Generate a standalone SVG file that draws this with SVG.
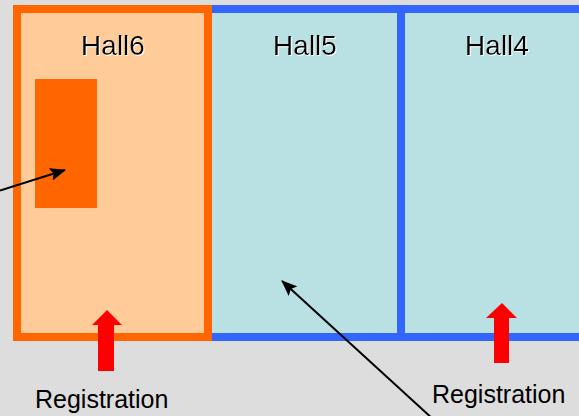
<svg xmlns="http://www.w3.org/2000/svg" width="579" height="416" viewBox="0 0 579 416">
<defs>
<style>
.t{font-family:"Liberation Sans",Arial,sans-serif;fill:#000}
.hall{font-size:28px;text-anchor:middle;filter:url(#sh)}
.reg{font-size:25px}
.conn{stroke:#000;stroke-width:2;fill:none;marker-end:url(#ah)}
.red{fill:#FF0000}
</style>
<filter id="sh" x="-10%" y="-10%" width="130%" height="130%">
<feDropShadow dx="1" dy="1" stdDeviation="0" flood-color="#fff" flood-opacity="1"/>
</filter>
<marker id="ah" viewBox="0 0 16 13" refX="15" refY="6.5" markerWidth="16" markerHeight="13" markerUnits="userSpaceOnUse" orient="auto">
<path d="M0,0 L16,6.5 L0,13 L3,6.5 z" fill="#000"/>
</marker>
</defs>
<rect width="579" height="416" fill="#DDDDDD"/>
<g id="hall54">
<rect x="208" y="9" width="380" height="328" fill="#B9E0E3" stroke="#3366FF" stroke-width="8"/>
<line x1="401" y1="9" x2="401" y2="337" stroke="#3366FF" stroke-width="8"/>
</g>
<g id="hall6">
<rect x="17" y="9" width="191" height="328" fill="#FFCC99" stroke="#FF6600" stroke-width="8"/>
<text class="t hall" x="113" y="55">Hall6</text>
</g>
<g id="hall5"><text class="t hall" x="305" y="55">Hall5</text></g>
<g id="hall4"><text class="t hall" x="497" y="55">Hall4</text></g>
<g id="booth"><rect x="35" y="79" width="62" height="129" fill="#FF6600"/></g>
<g id="reg-left">
<path class="red" d="M107,310 L122,325 L114,325 L114,371 L98,371 L98,325 L92,325 z"/>
<text class="t reg" x="35" y="408">Registration</text>
</g>
<g id="reg-right">
<path class="red" d="M502,303 L517,318 L509,318 L509,363 L494,363 L494,318 L486,318 z"/>
<text class="t reg" x="432" y="403">Registration</text>
</g>
<g id="connectors">
<line class="conn" x1="0" y1="190.5" x2="65" y2="170"/>
<line class="conn" x1="434" y1="420" x2="282" y2="281"/>
</g>
</svg>
